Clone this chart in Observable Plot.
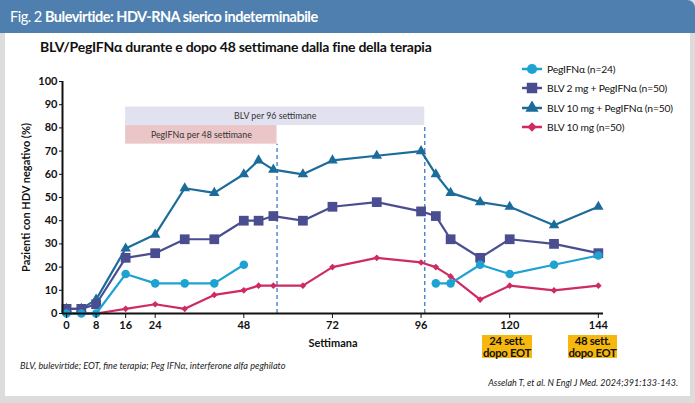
<!DOCTYPE html>
<html>
<head>
<meta charset="utf-8">
<script src="https://cdn.jsdelivr.net/npm/d3@7"></script>
<script src="https://cdn.jsdelivr.net/npm/@observablehq/plot@0.6"></script>
<style>
  body { margin: 0; background: #dcdcdc; }
  #wrap { position: relative; width: 695px; height: 403px; background: #dcdcdc; overflow: hidden;
          font-family: Lato, 'Noto Sans', sans-serif; color: #111; white-space: nowrap; }
  #header { position: absolute; left: 0; top: 0; width: 695px; height: 33px; background: #4f7fae;
            border-top-right-radius: 8px; color: #fff; font-size: 14.5px; line-height: 33px; padding-left: 10px;
            box-sizing: border-box; letter-spacing: -0.5px; }
  #header b { font-weight: bold; }
  #panel { position: absolute; left: 5px; top: 33px; width: 685px; height: 363px; background: #fff; }
  #chart { position: absolute; left: 0; top: 0; }
  #title { position: absolute; left: 40px; top: 38px; font-size: 14px; font-weight: bold; line-height: 18px; letter-spacing: -0.25px; }
  #legend { position: absolute; left: 521px; top: 59px; font-size: 10.3px; letter-spacing: -0.2px; }
  .lrow { display: flex; align-items: center; height: 19.5px; }
  .lrow svg { margin-right: 4px; }
  .eot { position: absolute; top: 335px; height: 23px; background: #f6b80e; font-size: 11.3px; font-weight: bold;
         line-height: 11.5px; text-align: center; display: flex; align-items: center; justify-content: center; letter-spacing: -0.3px; }
  #foot { position: absolute; left: 20px; top: 360px; font-size: 9.2px; font-style: italic; color: #222; }
  #cite { position: absolute; right: 17px; top: 377px; font-size: 9px; font-style: italic; color: #222; }
</style>
</head>
<body>
<div id="wrap">
  <div id="panel"></div>
  <div id="header">Fig. 2 <b>Bulevirtide: HDV-RNA sierico indeterminabile</b></div>
  <div id="title">BLV/PegIFNα durante e dopo 48 settimane dalla fine della terapia</div>
  <div id="chart"></div>
  <div id="legend"></div>
  <div id="foot">BLV, bulevirtide; EOT, fine terapia; Peg IFNα, interferone alfa peghilato</div>
  <div id="cite">Asselah T, et al. N Engl J Med. 2024;391:133-143.</div>
</div>
<script>
// ---- data ----
const weeks = [0, 4, 8, 16, 24, 32, 40, 48, 52, 56, 64, 72, 84, 96, 100, 104, 112, 120, 132, 144];
const pegWeeks = [0, 4, 8, 16, 24, 32, 40, 48, 96, 100, 104, 112, 120, 132, 144];
const pegValues = [0, 0, 0, 17, 13, 13, 13, 21, null, 13, 13, 21, 17, 21, 25];
const blv2PegValues = [2, 2, 4, 24, 26, 32, 32, 40, 40, 42, 40, 46, 48, 44, 42, 32, 24, 32, 30, 26];
const blv10PegValues = [2, 2, 6, 28, 34, 54, 52, 60, 66, 62, 60, 66, 68, 70, 60, 52, 48, 46, 38, 46];
const blv10Values = [0, 0, 0, 2, 4, 2, 8, 10, 12, 12, 12, 20, 24, 22, 20, 16, 6, 12, 10, 12];

const seriesNames = ["PegIFNα (n=24)", "BLV 2 mg + PegIFNα (n=50)", "BLV 10 mg + PegIFNα (n=50)", "BLV 10 mg (n=50)"];
const seriesColors = ["#1ea2d1", "#4b4d91", "#1c6c9b", "#cf2a64"];
const seriesSymbols = ["circle", "square", "triangle", "diamond2"];
const seriesRadius = [4.3, 5.5, 3.9, 3.0];

const xTicks = [0, 8, 16, 24, 48, 72, 96, 120, 144];
const yTicks = [0, 10, 20, 30, 40, 50, 60, 70, 80, 90, 100];

const bandLabels = ["BLV per 96 settimane", "PegIFNα per 48 settimane"];
const bandStart = [16, 16];
const bandEnd = [97, 57];
const bandColors = ["#e1e1f0", "#eac6c8"];

const eotLabels = ["24 sett.\ndopo EOT", "48 sett.\ndopo EOT"];

// ---- build tables ----
const FONT = "Lato, 'Noto Sans', sans-serif";
const seriesX = [pegWeeks, weeks, weeks, weeks];
const seriesY = [pegValues, blv2PegValues, blv10PegValues, blv10Values];
const series = seriesNames.map((name, i) => ({
  name, color: seriesColors[i], symbol: seriesSymbols[i], r: seriesRadius[i],
  rows: seriesX[i].map((w, j) => ({week: w, value: seriesY[i][j]}))
}));
const bandLevels = [[81, 89], [73, 81]];
const bands = bandLabels.map((label, i) => ({
  label, start: bandStart[i], end: bandEnd[i], color: bandColors[i],
  low: bandLevels[i][0], high: bandLevels[i][1]
}));

const xDomain = [-1.1, 145.4];
const drawOrder = [3, 2, 1, 0];

const marks = [
  Plot.rect(bands, {x1: "start", x2: "end", y1: "low", y2: "high", fill: "color"}),
  Plot.text(bands, {x: d => (d.start + d.end) / 2, y: d => (d.low + d.high) / 2, text: "label",
    fontSize: 8.8, fontWeight: "normal", fill: "#333"}),
  Plot.ruleX(bands, {x: "end", y1: 0, y2: "low", stroke: "#3d79c9", strokeWidth: 1.3, strokeDasharray: "4,3"}),
];
for (const i of drawOrder) {
  const s = series[i];
  marks.push(Plot.line(s.rows, {x: "week", y: "value", stroke: s.color, strokeWidth: 2.2}));
  marks.push(Plot.dot(s.rows.filter(d => d.value != null), {x: "week", y: "value", fill: s.color, symbol: s.symbol, r: s.r, stroke: "none"}));
}
marks.push(
  Plot.axisY({ticks: yTicks, tickSize: 3, tickPadding: 2, fontSize: 11, label: "Pazienti con HDV negativo (%)",
    labelAnchor: "center", labelOffset: 40, labelArrow: "none"}),
  Plot.axisX({ticks: xTicks, tickSize: 5, tickPadding: 3, fontSize: 11, label: "Settimana",
    labelAnchor: "center", labelOffset: 33, labelArrow: "none"}),
  Plot.ruleY([0], {stroke: "#111", strokeWidth: 2}),
  Plot.ruleX([xDomain[0]], {y1: 0, y2: 100, stroke: "#111", strokeWidth: 2})
);

const chart = Plot.plot({
  width: 695, height: 403,
  marginLeft: 62, marginRight: 92, marginTop: 81, marginBottom: 90,
  x: {domain: xDomain},
  y: {domain: [0, 100]},
  style: {background: "transparent", fontFamily: FONT, fontWeight: "bold", color: "#111", fontSize: "11px"},
  marks
});
document.getElementById("chart").appendChild(chart);

// ---- legend ----
const legend = d3.select("#legend");
const symMap = {circle: d3.symbolCircle, square: d3.symbolSquare, triangle: d3.symbolTriangle, diamond2: d3.symbolDiamond2};
const legSize = {circle: 80, square: 110, triangle: 75, diamond2: 55};
series.forEach(s => {
  const row = legend.append("div").attr("class", "lrow");
  const svg = row.append("svg").attr("width", 22).attr("height", 14);
  svg.append("line").attr("x1", 1).attr("x2", 21).attr("y1", 7).attr("y2", 7)
     .attr("stroke", s.color).attr("stroke-width", 2.5);
  svg.append("path").attr("transform", "translate(11,7)")
     .attr("d", d3.symbol(symMap[s.symbol], legSize[s.symbol])()).attr("fill", s.color);
  row.append("span").text(s.name);
});

// ---- EOT boxes ----
const eotLeft = [482, 568];
const eotWidth = [50, 49];
eotLabels.forEach((t, i) => {
  const div = document.createElement("div");
  div.className = "eot";
  div.style.left = eotLeft[i] + "px";
  div.style.width = eotWidth[i] + "px";
  div.innerHTML = t.split("\n").join("<br>");
  document.getElementById("wrap").appendChild(div);
});
</script>
</body>
</html>
